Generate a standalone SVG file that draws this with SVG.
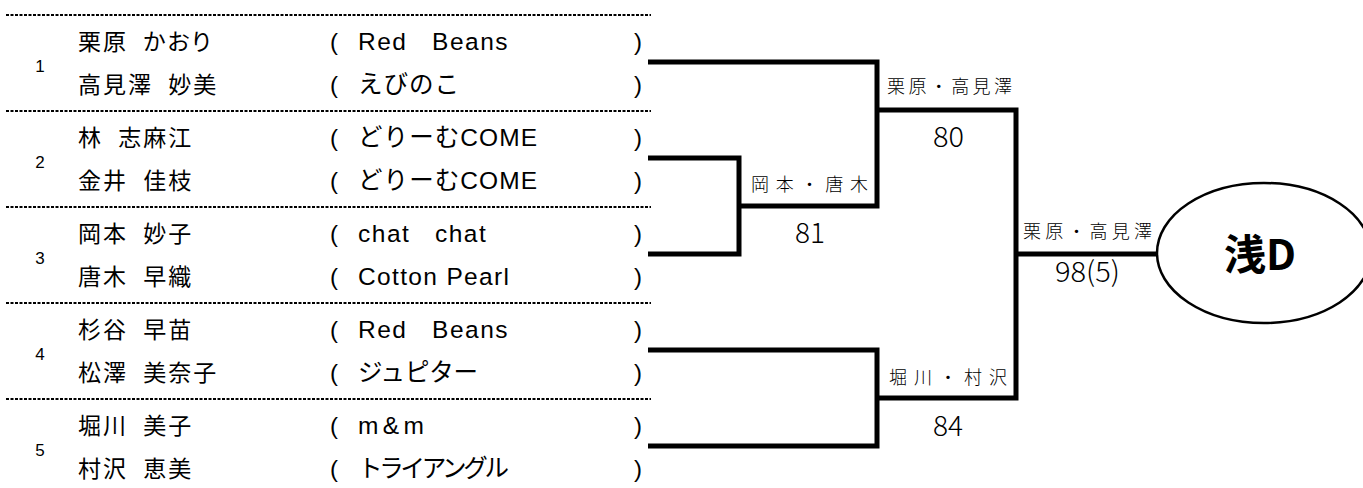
<svg xmlns="http://www.w3.org/2000/svg" width="1363" height="488" viewBox="0 0 1363 488">
<style>
.dot{stroke:#000;stroke-width:2;stroke-dasharray:3 1.5;fill:none}
.br{fill:none;stroke:#000;stroke-width:5;stroke-linejoin:miter}
.num{font-family:"Liberation Sans","Noto Sans CJK JP",sans-serif;font-size:17px;fill:#000;text-anchor:middle}
.nm{font-family:"Noto Sans CJK JP",sans-serif;font-size:23px;letter-spacing:2px;word-spacing:8px;font-feature-settings:"palt";fill:#000}
.tm{font-family:"Liberation Sans","Noto Sans CJK JP",sans-serif;font-size:24.5px;fill:#000}
.ws{word-spacing:4px;letter-spacing:1.5px}
.pr{font-family:"Liberation Sans","Noto Sans CJK JP",sans-serif;font-size:24px;fill:#000}
.lb{font-family:"Noto Sans CJK JP",sans-serif;font-size:18px;font-weight:300;fill:#000}
.sc{font-family:"Noto Sans CJK JP",sans-serif;font-size:28px;font-weight:300;fill:#000}
.win{font-family:"Noto Sans CJK JP",sans-serif;font-size:42px;font-weight:700;fill:#000;text-anchor:middle}
</style>
<g id="separators">
<line class="dot" x1="6" y1="15" x2="651" y2="15"/>
<line class="dot" x1="6" y1="111" x2="651" y2="111"/>
<line class="dot" x1="6" y1="207" x2="651" y2="207"/>
<line class="dot" x1="6" y1="303" x2="651" y2="303"/>
<line class="dot" x1="6" y1="399" x2="651" y2="399"/>
</g>
<g id="team1">
<text class="num" x="40" y="72">1</text>
<text class="nm" x="78" y="50">栗原 かおり</text>
<text class="nm" x="78" y="93">高見澤 妙美</text>
<text class="pr" x="330" y="50">(</text><text class="tm ws" x="358" y="50" xml:space="preserve">Red  Beans</text><text class="pr" x="634" y="50">)</text>
<text class="pr" x="330" y="93">(</text><text class="tm" x="358" y="93" textLength="101" lengthAdjust="spacing">えびのこ</text><text class="pr" x="634" y="93">)</text>
</g>
<g id="team2">
<text class="num" x="40" y="168">2</text>
<text class="nm" x="78" y="146">林 志麻江</text>
<text class="nm" x="78" y="189">金井 佳枝</text>
<text class="pr" x="330" y="146">(</text><text class="tm" x="358" y="146" textLength="179" lengthAdjust="spacing">どりーむCOME</text><text class="pr" x="634" y="146">)</text>
<text class="pr" x="330" y="189">(</text><text class="tm" x="358" y="189" textLength="179" lengthAdjust="spacing">どりーむCOME</text><text class="pr" x="634" y="189">)</text>
</g>
<g id="team3">
<text class="num" x="40" y="264">3</text>
<text class="nm" x="78" y="242">岡本 妙子</text>
<text class="nm" x="78" y="285">唐木 早織</text>
<text class="pr" x="330" y="242">(</text><text class="tm ws" x="358" y="242" xml:space="preserve">chat  chat</text><text class="pr" x="634" y="242">)</text>
<text class="pr" x="330" y="285">(</text><text class="tm" x="358" y="285" textLength="151" lengthAdjust="spacing">Cotton Pearl</text><text class="pr" x="634" y="285">)</text>
</g>
<g id="team4">
<text class="num" x="40" y="360">4</text>
<text class="nm" x="78" y="338">杉谷 早苗</text>
<text class="nm" x="78" y="381">松澤 美奈子</text>
<text class="pr" x="330" y="338">(</text><text class="tm ws" x="358" y="338" xml:space="preserve">Red  Beans</text><text class="pr" x="634" y="338">)</text>
<text class="pr" x="330" y="381">(</text><text class="tm" x="358" y="381" textLength="120" lengthAdjust="spacing">ジュピター</text><text class="pr" x="634" y="381">)</text>
</g>
<g id="team5">
<text class="num" x="40" y="456">5</text>
<text class="nm" x="78" y="434">堀川 美子</text>
<text class="nm" x="78" y="477">村沢 恵美</text>
<text class="pr" x="330" y="434">(</text><text class="tm" x="358" y="434" textLength="66" lengthAdjust="spacing">m&amp;m</text><text class="pr" x="634" y="434">)</text>
<text class="pr" x="330" y="477">(</text><text class="tm" x="358" y="477" textLength="151" lengthAdjust="spacing">トライアングル</text><text class="pr" x="634" y="477">)</text>
</g>
<g id="connectors">
<path class="br" d="M648 62 H877 V206 H739"/>
<path class="br" d="M648 158 H739 V254 H648"/>
<path class="br" d="M877 110 H1016 V398 H877"/>
<path class="br" d="M648 350 H877 V446 H648"/>
<path class="br" d="M1016 254 H1158"/>
</g>
<g id="match23">
<text class="lb" x="751" y="191" textLength="117" lengthAdjust="spacing">岡本・唐木</text>
<text class="sc" x="795" y="243" textLength="30" lengthAdjust="spacingAndGlyphs">81</text>
</g>
<g id="match1">
<text class="lb" x="887" y="93" textLength="125" lengthAdjust="spacing">栗原・高見澤</text>
<text class="sc" x="933" y="147" textLength="31" lengthAdjust="spacingAndGlyphs">80</text>
</g>
<g id="match45">
<text class="lb" x="889" y="384" textLength="118" lengthAdjust="spacing">堀川・村沢</text>
<text class="sc" x="933" y="436" textLength="30" lengthAdjust="spacingAndGlyphs">84</text>
</g>
<g id="final">
<text class="lb" x="1023" y="238" textLength="129" lengthAdjust="spacing">栗原・高見澤</text>
<text class="sc" x="1055" y="282" textLength="65" lengthAdjust="spacingAndGlyphs">98(5)</text>
</g>
<g id="winner">
<ellipse cx="1264" cy="253" rx="107" ry="70" fill="#fff" stroke="#000" stroke-width="2.5"/>
<text class="win" x="1260" y="270">浅D</text>
</g>
</svg>
